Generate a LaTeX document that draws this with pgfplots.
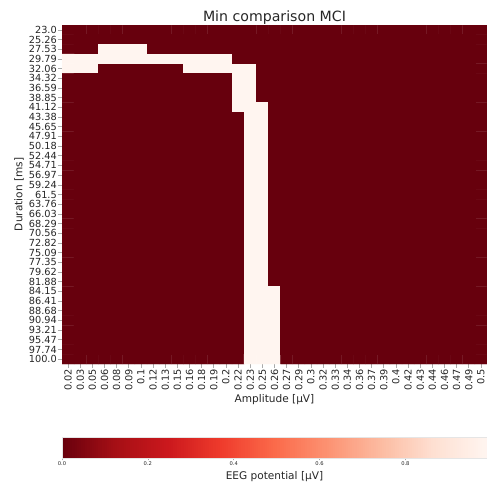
\documentclass[border=0pt]{standalone}
\usepackage{pgfplots}
\pgfplotsset{compat=1.18}
\usepackage{fontspec}
\setmainfont{DejaVu Sans}
\definecolor{tickgrey}{RGB}{170,170,170}
\definecolor{lblcol}{RGB}{38,38,38}
\begin{document}
\begin{tikzpicture}
\useasboundingbox (0,0) rectangle (487bp,487bp);
\begin{axis}[
  at={(62bp,123bp)}, anchor=south west,
  scale only axis, width=425bp, height=339bp,
  xmin=-0.5, xmax=34.5, ymin=-0.5, ymax=34.5,
  y dir=reverse,
  axis line style={draw=none},
  tick align=outside, tick pos=left,
  major tick length=4bp,
  tick style={tickgrey, line width=0.6bp},
  xtick={0,...,34}, ytick={0,...,34},
  xticklabels={0.02,0.03,0.05,0.06,0.08,0.09,0.1,0.12,0.13,0.15,0.16,0.18,0.19,0.2,0.22,0.23,0.25,0.26,0.27,0.29,0.3,0.32,0.33,0.34,0.36,0.37,0.39,0.4,0.42,0.43,0.44,0.46,0.47,0.49,0.5},
  yticklabels={23.0,25.26,27.53,29.79,32.06,34.32,36.59,38.85,41.12,43.38,45.65,47.91,50.18,52.44,54.71,56.97,59.24,61.5,63.76,66.03,68.29,70.56,72.82,75.09,77.35,79.62,81.88,84.15,86.41,88.68,90.94,93.21,95.47,97.74,100.0},
  xticklabel style={rotate=90, anchor=east, inner sep=1bp, font=\fontsize{9.8}{10}\selectfont, text=lblcol},
  yticklabel style={anchor=east, inner sep=1bp, font=\fontsize{9.8}{10}\selectfont, text=lblcol},
  title={Min comparison MCI},
  title style={at={(axis description cs:0.5,1)}, anchor=base, yshift=-2.7bp, inner sep=0pt, font=\fontsize{14.2}{16}\selectfont, text=lblcol},
  xlabel={Amplitude [μV]},
  xlabel style={at={(axis description cs:0.5,0)}, anchor=north, yshift=-30bp, inner sep=0pt, font=\fontsize{10.6}{12}\selectfont, text=lblcol},
  ylabel={Duration [ms]},
  ylabel style={at={(axis description cs:0,0.5)}, anchor=south, yshift=38bp, inner sep=0pt, font=\fontsize{10.6}{12}\selectfont, text=lblcol},
  colormap={redsr}{rgb255=(103,0,13) rgb255=(165,15,21) rgb255=(203,24,29) rgb255=(239,59,44) rgb255=(251,106,74) rgb255=(252,146,114) rgb255=(252,187,161) rgb255=(254,224,210) rgb255=(255,245,240)},
  point meta min=0, point meta max=0.99,
  colorbar horizontal,
  colorbar sampled,
  colorbar shift/.style={},
  colorbar style={
    at={(parent axis.south west)}, anchor=north west, yshift=-73.3bp,
    scale only axis, width=425bp, height=21bp,
    samples=200,
    axis line style={draw=black!10, line width=0.4bp},
    xtick={0,0.2,0.4,0.6,0.8},
    ytick=\empty,
    tick align=outside, major tick length=2bp,
    xtick pos=left,
    xtick style={tickgrey, line width=0.5bp},
    xticklabel pos=lower,
    xticklabel style={inner sep=1bp, font=\fontsize{5.2}{6}\selectfont, text=lblcol, /pgf/number format/.cd, fixed, fixed zerofill, precision=1, assume math mode=true},
    xlabel={EEG potential [μV]},
    xlabel style={at={(axis description cs:0.5,0)}, anchor=base, yshift=-21.7bp, inner sep=0pt, font=\fontsize{10.6}{12}\selectfont, text=lblcol},
  },
]
\addplot[matrix plot*, mesh/cols=35, point meta=explicit] table[meta=c, row sep=\\] {
x y c\\
0 0 0\\1 0 0\\2 0 0\\3 0 0\\4 0 0\\5 0 0\\6 0 0\\7 0 0\\8 0 0\\9 0 0\\10 0 0\\11 0 0\\12 0 0\\13 0 0\\14 0 0\\15 0 0\\16 0 0\\17 0 0\\18 0 0\\19 0 0\\20 0 0\\21 0 0\\22 0 0\\23 0 0\\24 0 0\\25 0 0\\26 0 0\\27 0 0\\28 0 0\\29 0 0\\30 0 0\\31 0 0\\32 0 0\\33 0 0\\34 0 0\\
0 1 0\\1 1 0\\2 1 0\\3 1 0\\4 1 0\\5 1 0\\6 1 0\\7 1 0\\8 1 0\\9 1 0\\10 1 0\\11 1 0\\12 1 0\\13 1 0\\14 1 0\\15 1 0\\16 1 0\\17 1 0\\18 1 0\\19 1 0\\20 1 0\\21 1 0\\22 1 0\\23 1 0\\24 1 0\\25 1 0\\26 1 0\\27 1 0\\28 1 0\\29 1 0\\30 1 0\\31 1 0\\32 1 0\\33 1 0\\34 1 0\\
0 2 0\\1 2 0\\2 2 0\\3 2 0.99\\4 2 0.99\\5 2 0.99\\6 2 0.99\\7 2 0\\8 2 0\\9 2 0\\10 2 0\\11 2 0\\12 2 0\\13 2 0\\14 2 0\\15 2 0\\16 2 0\\17 2 0\\18 2 0\\19 2 0\\20 2 0\\21 2 0\\22 2 0\\23 2 0\\24 2 0\\25 2 0\\26 2 0\\27 2 0\\28 2 0\\29 2 0\\30 2 0\\31 2 0\\32 2 0\\33 2 0\\34 2 0\\
0 3 0.99\\1 3 0.99\\2 3 0.99\\3 3 0.99\\4 3 0.99\\5 3 0.99\\6 3 0.99\\7 3 0.99\\8 3 0.99\\9 3 0.99\\10 3 0.99\\11 3 0.99\\12 3 0.99\\13 3 0.99\\14 3 0\\15 3 0\\16 3 0\\17 3 0\\18 3 0\\19 3 0\\20 3 0\\21 3 0\\22 3 0\\23 3 0\\24 3 0\\25 3 0\\26 3 0\\27 3 0\\28 3 0\\29 3 0\\30 3 0\\31 3 0\\32 3 0\\33 3 0\\34 3 0\\
0 4 0.99\\1 4 0.99\\2 4 0.99\\3 4 0\\4 4 0\\5 4 0\\6 4 0\\7 4 0\\8 4 0\\9 4 0\\10 4 0.99\\11 4 0.99\\12 4 0.99\\13 4 0.99\\14 4 0.99\\15 4 0.99\\16 4 0\\17 4 0\\18 4 0\\19 4 0\\20 4 0\\21 4 0\\22 4 0\\23 4 0\\24 4 0\\25 4 0\\26 4 0\\27 4 0\\28 4 0\\29 4 0\\30 4 0\\31 4 0\\32 4 0\\33 4 0\\34 4 0\\
0 5 0\\1 5 0\\2 5 0\\3 5 0\\4 5 0\\5 5 0\\6 5 0\\7 5 0\\8 5 0\\9 5 0\\10 5 0\\11 5 0\\12 5 0\\13 5 0\\14 5 0.99\\15 5 0.99\\16 5 0\\17 5 0\\18 5 0\\19 5 0\\20 5 0\\21 5 0\\22 5 0\\23 5 0\\24 5 0\\25 5 0\\26 5 0\\27 5 0\\28 5 0\\29 5 0\\30 5 0\\31 5 0\\32 5 0\\33 5 0\\34 5 0\\
0 6 0\\1 6 0\\2 6 0\\3 6 0\\4 6 0\\5 6 0\\6 6 0\\7 6 0\\8 6 0\\9 6 0\\10 6 0\\11 6 0\\12 6 0\\13 6 0\\14 6 0.99\\15 6 0.99\\16 6 0\\17 6 0\\18 6 0\\19 6 0\\20 6 0\\21 6 0\\22 6 0\\23 6 0\\24 6 0\\25 6 0\\26 6 0\\27 6 0\\28 6 0\\29 6 0\\30 6 0\\31 6 0\\32 6 0\\33 6 0\\34 6 0\\
0 7 0\\1 7 0\\2 7 0\\3 7 0\\4 7 0\\5 7 0\\6 7 0\\7 7 0\\8 7 0\\9 7 0\\10 7 0\\11 7 0\\12 7 0\\13 7 0\\14 7 0.99\\15 7 0.99\\16 7 0\\17 7 0\\18 7 0\\19 7 0\\20 7 0\\21 7 0\\22 7 0\\23 7 0\\24 7 0\\25 7 0\\26 7 0\\27 7 0\\28 7 0\\29 7 0\\30 7 0\\31 7 0\\32 7 0\\33 7 0\\34 7 0\\
0 8 0\\1 8 0\\2 8 0\\3 8 0\\4 8 0\\5 8 0\\6 8 0\\7 8 0\\8 8 0\\9 8 0\\10 8 0\\11 8 0\\12 8 0\\13 8 0\\14 8 0.99\\15 8 0.99\\16 8 0.99\\17 8 0\\18 8 0\\19 8 0\\20 8 0\\21 8 0\\22 8 0\\23 8 0\\24 8 0\\25 8 0\\26 8 0\\27 8 0\\28 8 0\\29 8 0\\30 8 0\\31 8 0\\32 8 0\\33 8 0\\34 8 0\\
0 9 0\\1 9 0\\2 9 0\\3 9 0\\4 9 0\\5 9 0\\6 9 0\\7 9 0\\8 9 0\\9 9 0\\10 9 0\\11 9 0\\12 9 0\\13 9 0\\14 9 0\\15 9 0.99\\16 9 0.99\\17 9 0\\18 9 0\\19 9 0\\20 9 0\\21 9 0\\22 9 0\\23 9 0\\24 9 0\\25 9 0\\26 9 0\\27 9 0\\28 9 0\\29 9 0\\30 9 0\\31 9 0\\32 9 0\\33 9 0\\34 9 0\\
0 10 0\\1 10 0\\2 10 0\\3 10 0\\4 10 0\\5 10 0\\6 10 0\\7 10 0\\8 10 0\\9 10 0\\10 10 0\\11 10 0\\12 10 0\\13 10 0\\14 10 0\\15 10 0.99\\16 10 0.99\\17 10 0\\18 10 0\\19 10 0\\20 10 0\\21 10 0\\22 10 0\\23 10 0\\24 10 0\\25 10 0\\26 10 0\\27 10 0\\28 10 0\\29 10 0\\30 10 0\\31 10 0\\32 10 0\\33 10 0\\34 10 0\\
0 11 0\\1 11 0\\2 11 0\\3 11 0\\4 11 0\\5 11 0\\6 11 0\\7 11 0\\8 11 0\\9 11 0\\10 11 0\\11 11 0\\12 11 0\\13 11 0\\14 11 0\\15 11 0.99\\16 11 0.99\\17 11 0\\18 11 0\\19 11 0\\20 11 0\\21 11 0\\22 11 0\\23 11 0\\24 11 0\\25 11 0\\26 11 0\\27 11 0\\28 11 0\\29 11 0\\30 11 0\\31 11 0\\32 11 0\\33 11 0\\34 11 0\\
0 12 0\\1 12 0\\2 12 0\\3 12 0\\4 12 0\\5 12 0\\6 12 0\\7 12 0\\8 12 0\\9 12 0\\10 12 0\\11 12 0\\12 12 0\\13 12 0\\14 12 0\\15 12 0.99\\16 12 0.99\\17 12 0\\18 12 0\\19 12 0\\20 12 0\\21 12 0\\22 12 0\\23 12 0\\24 12 0\\25 12 0\\26 12 0\\27 12 0\\28 12 0\\29 12 0\\30 12 0\\31 12 0\\32 12 0\\33 12 0\\34 12 0\\
0 13 0\\1 13 0\\2 13 0\\3 13 0\\4 13 0\\5 13 0\\6 13 0\\7 13 0\\8 13 0\\9 13 0\\10 13 0\\11 13 0\\12 13 0\\13 13 0\\14 13 0\\15 13 0.99\\16 13 0.99\\17 13 0\\18 13 0\\19 13 0\\20 13 0\\21 13 0\\22 13 0\\23 13 0\\24 13 0\\25 13 0\\26 13 0\\27 13 0\\28 13 0\\29 13 0\\30 13 0\\31 13 0\\32 13 0\\33 13 0\\34 13 0\\
0 14 0\\1 14 0\\2 14 0\\3 14 0\\4 14 0\\5 14 0\\6 14 0\\7 14 0\\8 14 0\\9 14 0\\10 14 0\\11 14 0\\12 14 0\\13 14 0\\14 14 0\\15 14 0.99\\16 14 0.99\\17 14 0\\18 14 0\\19 14 0\\20 14 0\\21 14 0\\22 14 0\\23 14 0\\24 14 0\\25 14 0\\26 14 0\\27 14 0\\28 14 0\\29 14 0\\30 14 0\\31 14 0\\32 14 0\\33 14 0\\34 14 0\\
0 15 0\\1 15 0\\2 15 0\\3 15 0\\4 15 0\\5 15 0\\6 15 0\\7 15 0\\8 15 0\\9 15 0\\10 15 0\\11 15 0\\12 15 0\\13 15 0\\14 15 0\\15 15 0.99\\16 15 0.99\\17 15 0\\18 15 0\\19 15 0\\20 15 0\\21 15 0\\22 15 0\\23 15 0\\24 15 0\\25 15 0\\26 15 0\\27 15 0\\28 15 0\\29 15 0\\30 15 0\\31 15 0\\32 15 0\\33 15 0\\34 15 0\\
0 16 0\\1 16 0\\2 16 0\\3 16 0\\4 16 0\\5 16 0\\6 16 0\\7 16 0\\8 16 0\\9 16 0\\10 16 0\\11 16 0\\12 16 0\\13 16 0\\14 16 0\\15 16 0.99\\16 16 0.99\\17 16 0\\18 16 0\\19 16 0\\20 16 0\\21 16 0\\22 16 0\\23 16 0\\24 16 0\\25 16 0\\26 16 0\\27 16 0\\28 16 0\\29 16 0\\30 16 0\\31 16 0\\32 16 0\\33 16 0\\34 16 0\\
0 17 0\\1 17 0\\2 17 0\\3 17 0\\4 17 0\\5 17 0\\6 17 0\\7 17 0\\8 17 0\\9 17 0\\10 17 0\\11 17 0\\12 17 0\\13 17 0\\14 17 0\\15 17 0.99\\16 17 0.99\\17 17 0\\18 17 0\\19 17 0\\20 17 0\\21 17 0\\22 17 0\\23 17 0\\24 17 0\\25 17 0\\26 17 0\\27 17 0\\28 17 0\\29 17 0\\30 17 0\\31 17 0\\32 17 0\\33 17 0\\34 17 0\\
0 18 0\\1 18 0\\2 18 0\\3 18 0\\4 18 0\\5 18 0\\6 18 0\\7 18 0\\8 18 0\\9 18 0\\10 18 0\\11 18 0\\12 18 0\\13 18 0\\14 18 0\\15 18 0.99\\16 18 0.99\\17 18 0\\18 18 0\\19 18 0\\20 18 0\\21 18 0\\22 18 0\\23 18 0\\24 18 0\\25 18 0\\26 18 0\\27 18 0\\28 18 0\\29 18 0\\30 18 0\\31 18 0\\32 18 0\\33 18 0\\34 18 0\\
0 19 0\\1 19 0\\2 19 0\\3 19 0\\4 19 0\\5 19 0\\6 19 0\\7 19 0\\8 19 0\\9 19 0\\10 19 0\\11 19 0\\12 19 0\\13 19 0\\14 19 0\\15 19 0.99\\16 19 0.99\\17 19 0\\18 19 0\\19 19 0\\20 19 0\\21 19 0\\22 19 0\\23 19 0\\24 19 0\\25 19 0\\26 19 0\\27 19 0\\28 19 0\\29 19 0\\30 19 0\\31 19 0\\32 19 0\\33 19 0\\34 19 0\\
0 20 0\\1 20 0\\2 20 0\\3 20 0\\4 20 0\\5 20 0\\6 20 0\\7 20 0\\8 20 0\\9 20 0\\10 20 0\\11 20 0\\12 20 0\\13 20 0\\14 20 0\\15 20 0.99\\16 20 0.99\\17 20 0\\18 20 0\\19 20 0\\20 20 0\\21 20 0\\22 20 0\\23 20 0\\24 20 0\\25 20 0\\26 20 0\\27 20 0\\28 20 0\\29 20 0\\30 20 0\\31 20 0\\32 20 0\\33 20 0\\34 20 0\\
0 21 0\\1 21 0\\2 21 0\\3 21 0\\4 21 0\\5 21 0\\6 21 0\\7 21 0\\8 21 0\\9 21 0\\10 21 0\\11 21 0\\12 21 0\\13 21 0\\14 21 0\\15 21 0.99\\16 21 0.99\\17 21 0\\18 21 0\\19 21 0\\20 21 0\\21 21 0\\22 21 0\\23 21 0\\24 21 0\\25 21 0\\26 21 0\\27 21 0\\28 21 0\\29 21 0\\30 21 0\\31 21 0\\32 21 0\\33 21 0\\34 21 0\\
0 22 0\\1 22 0\\2 22 0\\3 22 0\\4 22 0\\5 22 0\\6 22 0\\7 22 0\\8 22 0\\9 22 0\\10 22 0\\11 22 0\\12 22 0\\13 22 0\\14 22 0\\15 22 0.99\\16 22 0.99\\17 22 0\\18 22 0\\19 22 0\\20 22 0\\21 22 0\\22 22 0\\23 22 0\\24 22 0\\25 22 0\\26 22 0\\27 22 0\\28 22 0\\29 22 0\\30 22 0\\31 22 0\\32 22 0\\33 22 0\\34 22 0\\
0 23 0\\1 23 0\\2 23 0\\3 23 0\\4 23 0\\5 23 0\\6 23 0\\7 23 0\\8 23 0\\9 23 0\\10 23 0\\11 23 0\\12 23 0\\13 23 0\\14 23 0\\15 23 0.99\\16 23 0.99\\17 23 0\\18 23 0\\19 23 0\\20 23 0\\21 23 0\\22 23 0\\23 23 0\\24 23 0\\25 23 0\\26 23 0\\27 23 0\\28 23 0\\29 23 0\\30 23 0\\31 23 0\\32 23 0\\33 23 0\\34 23 0\\
0 24 0\\1 24 0\\2 24 0\\3 24 0\\4 24 0\\5 24 0\\6 24 0\\7 24 0\\8 24 0\\9 24 0\\10 24 0\\11 24 0\\12 24 0\\13 24 0\\14 24 0\\15 24 0.99\\16 24 0.99\\17 24 0\\18 24 0\\19 24 0\\20 24 0\\21 24 0\\22 24 0\\23 24 0\\24 24 0\\25 24 0\\26 24 0\\27 24 0\\28 24 0\\29 24 0\\30 24 0\\31 24 0\\32 24 0\\33 24 0\\34 24 0\\
0 25 0\\1 25 0\\2 25 0\\3 25 0\\4 25 0\\5 25 0\\6 25 0\\7 25 0\\8 25 0\\9 25 0\\10 25 0\\11 25 0\\12 25 0\\13 25 0\\14 25 0\\15 25 0.99\\16 25 0.99\\17 25 0\\18 25 0\\19 25 0\\20 25 0\\21 25 0\\22 25 0\\23 25 0\\24 25 0\\25 25 0\\26 25 0\\27 25 0\\28 25 0\\29 25 0\\30 25 0\\31 25 0\\32 25 0\\33 25 0\\34 25 0\\
0 26 0\\1 26 0\\2 26 0\\3 26 0\\4 26 0\\5 26 0\\6 26 0\\7 26 0\\8 26 0\\9 26 0\\10 26 0\\11 26 0\\12 26 0\\13 26 0\\14 26 0\\15 26 0.99\\16 26 0.99\\17 26 0\\18 26 0\\19 26 0\\20 26 0\\21 26 0\\22 26 0\\23 26 0\\24 26 0\\25 26 0\\26 26 0\\27 26 0\\28 26 0\\29 26 0\\30 26 0\\31 26 0\\32 26 0\\33 26 0\\34 26 0\\
0 27 0\\1 27 0\\2 27 0\\3 27 0\\4 27 0\\5 27 0\\6 27 0\\7 27 0\\8 27 0\\9 27 0\\10 27 0\\11 27 0\\12 27 0\\13 27 0\\14 27 0\\15 27 0.99\\16 27 0.99\\17 27 0.99\\18 27 0\\19 27 0\\20 27 0\\21 27 0\\22 27 0\\23 27 0\\24 27 0\\25 27 0\\26 27 0\\27 27 0\\28 27 0\\29 27 0\\30 27 0\\31 27 0\\32 27 0\\33 27 0\\34 27 0\\
0 28 0\\1 28 0\\2 28 0\\3 28 0\\4 28 0\\5 28 0\\6 28 0\\7 28 0\\8 28 0\\9 28 0\\10 28 0\\11 28 0\\12 28 0\\13 28 0\\14 28 0\\15 28 0.99\\16 28 0.99\\17 28 0.99\\18 28 0\\19 28 0\\20 28 0\\21 28 0\\22 28 0\\23 28 0\\24 28 0\\25 28 0\\26 28 0\\27 28 0\\28 28 0\\29 28 0\\30 28 0\\31 28 0\\32 28 0\\33 28 0\\34 28 0\\
0 29 0\\1 29 0\\2 29 0\\3 29 0\\4 29 0\\5 29 0\\6 29 0\\7 29 0\\8 29 0\\9 29 0\\10 29 0\\11 29 0\\12 29 0\\13 29 0\\14 29 0\\15 29 0.99\\16 29 0.99\\17 29 0.99\\18 29 0\\19 29 0\\20 29 0\\21 29 0\\22 29 0\\23 29 0\\24 29 0\\25 29 0\\26 29 0\\27 29 0\\28 29 0\\29 29 0\\30 29 0\\31 29 0\\32 29 0\\33 29 0\\34 29 0\\
0 30 0\\1 30 0\\2 30 0\\3 30 0\\4 30 0\\5 30 0\\6 30 0\\7 30 0\\8 30 0\\9 30 0\\10 30 0\\11 30 0\\12 30 0\\13 30 0\\14 30 0\\15 30 0.99\\16 30 0.99\\17 30 0.99\\18 30 0\\19 30 0\\20 30 0\\21 30 0\\22 30 0\\23 30 0\\24 30 0\\25 30 0\\26 30 0\\27 30 0\\28 30 0\\29 30 0\\30 30 0\\31 30 0\\32 30 0\\33 30 0\\34 30 0\\
0 31 0\\1 31 0\\2 31 0\\3 31 0\\4 31 0\\5 31 0\\6 31 0\\7 31 0\\8 31 0\\9 31 0\\10 31 0\\11 31 0\\12 31 0\\13 31 0\\14 31 0\\15 31 0.99\\16 31 0.99\\17 31 0.99\\18 31 0\\19 31 0\\20 31 0\\21 31 0\\22 31 0\\23 31 0\\24 31 0\\25 31 0\\26 31 0\\27 31 0\\28 31 0\\29 31 0\\30 31 0\\31 31 0\\32 31 0\\33 31 0\\34 31 0\\
0 32 0\\1 32 0\\2 32 0\\3 32 0\\4 32 0\\5 32 0\\6 32 0\\7 32 0\\8 32 0\\9 32 0\\10 32 0\\11 32 0\\12 32 0\\13 32 0\\14 32 0\\15 32 0.99\\16 32 0.99\\17 32 0.99\\18 32 0\\19 32 0\\20 32 0\\21 32 0\\22 32 0\\23 32 0\\24 32 0\\25 32 0\\26 32 0\\27 32 0\\28 32 0\\29 32 0\\30 32 0\\31 32 0\\32 32 0\\33 32 0\\34 32 0\\
0 33 0\\1 33 0\\2 33 0\\3 33 0\\4 33 0\\5 33 0\\6 33 0\\7 33 0\\8 33 0\\9 33 0\\10 33 0\\11 33 0\\12 33 0\\13 33 0\\14 33 0\\15 33 0.99\\16 33 0.99\\17 33 0.99\\18 33 0\\19 33 0\\20 33 0\\21 33 0\\22 33 0\\23 33 0\\24 33 0\\25 33 0\\26 33 0\\27 33 0\\28 33 0\\29 33 0\\30 33 0\\31 33 0\\32 33 0\\33 33 0\\34 33 0\\
0 34 0\\1 34 0\\2 34 0\\3 34 0\\4 34 0\\5 34 0\\6 34 0\\7 34 0\\8 34 0\\9 34 0\\10 34 0\\11 34 0\\12 34 0\\13 34 0\\14 34 0\\15 34 0.99\\16 34 0.99\\17 34 0.99\\18 34 0\\19 34 0\\20 34 0\\21 34 0\\22 34 0\\23 34 0\\24 34 0\\25 34 0\\26 34 0\\27 34 0\\28 34 0\\29 34 0\\30 34 0\\31 34 0\\32 34 0\\33 34 0\\34 34 0\\
};
\end{axis}
\end{tikzpicture}
\end{document}
